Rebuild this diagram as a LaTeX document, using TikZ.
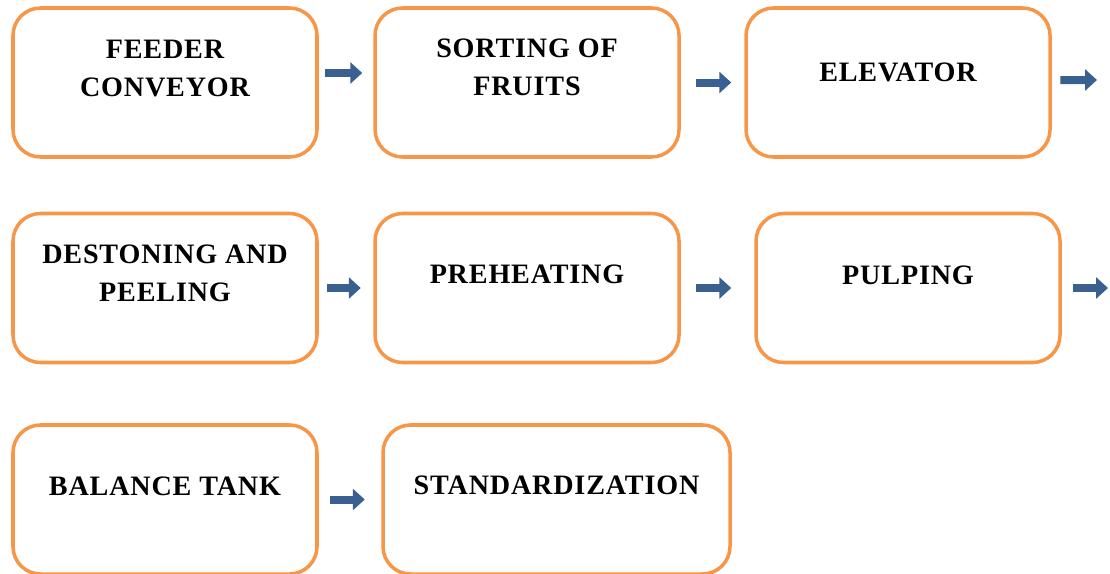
\documentclass[tikz,border=0pt]{standalone}
\usepackage{fontspec}
\setmainfont[LetterSpace=3]{Liberation Serif}
\usetikzlibrary{arrows.meta,positioning}
\definecolor{boxorange}{RGB}{247,150,70}
\definecolor{arrowblue}{RGB}{58,96,145}

\begin{document}
\begin{tikzpicture}[
	stepbox/.style={rectangle,draw=boxorange,line width=2pt,rounded corners=0.55cm,minimum width=6.08cm,minimum height=2.98cm},
	steptext/.style={align=center,font=\fontsize{16}{21.6}\selectfont\bfseries},
	flow/.style={draw=arrowblue,line width=0.16cm,-{Triangle[length=0.24cm,width=0.42cm]}}]
	\useasboundingbox (0,0) rectangle (22.2,-11.46);
	\begin{scope}[every node/.style={stepbox}]
		\node (feeder) at (3.30,-1.65) {};
		\node[right =1.09cm of feeder] (sorting) {};
		\node[right =1.27cm of sorting] (elevator) {};
		\node (destoning) at (3.30,-5.76) {};
		\node[right =1.09cm of destoning] (preheating) {};
		\node[right =1.47cm of preheating] (pulping) {};
		\node (balance) at (3.30,-9.99) {};
		\node[right =1.25cm of balance,minimum width=6.94cm] (standard) {};
	\end{scope}

	\node[steptext] (feedertext) at ([yshift=0.28cm]feeder.center) {FEEDER\\CONVEYOR};
	\node[steptext] (sortingtext) at ([yshift=0.30cm]sorting.center) {SORTING OF\\FRUITS};
	\node[steptext] (elevatortext) at ([yshift=0.20cm]elevator.center) {ELEVATOR};
	\node[steptext] (destoningtext) at ([yshift=0.29cm]destoning.center) {DESTONING AND\\PEELING};
	\node[steptext] (preheatingtext) at ([yshift=0.27cm]preheating.center) {PREHEATING};
	\node[steptext] (pulpingtext) at ([yshift=0.26cm]pulping.center) {PULPING};
	\node[steptext] (balancetext) at ([yshift=0.27cm]balance.center) {BALANCE TANK};
	\node[steptext] (standardtext) at ([yshift=0.28cm]standard.center) {STANDARDIZATION};

	\coordinate (rowoneout) at (21.94,-1.60);
	\coordinate (rowtwoout) at (22.16,-5.76);

	\begin{scope}
	\draw[flow,shorten <=0.13cm,shorten >=0.22cm] ([yshift=0.19cm]feeder.east) -- ([yshift=0.19cm]sorting.west);
	\draw[flow,shorten <=0.30cm,shorten >=0.26cm] (sorting.east) -- (elevator.west);
	\draw[flow,shorten <=0.17cm] ([yshift=0.05cm]elevator.east) -- (rowoneout);
	\draw[flow,shorten <=0.17cm,shorten >=0.25cm] (destoning) -- (preheating);
	\draw[flow,shorten <=0.30cm,shorten >=0.46cm] (preheating) -- (pulping);
	\draw[flow,shorten <=0.23cm] (pulping.east) -- (rowtwoout);
	\draw[flow,shorten <=0.23cm,shorten >=0.33cm] (balance) -- (standard);
	\end{scope}
\end{tikzpicture}
\end{document}
